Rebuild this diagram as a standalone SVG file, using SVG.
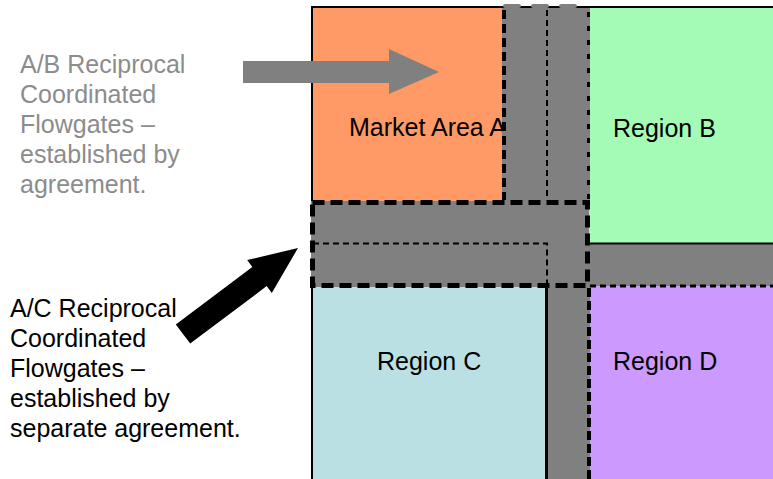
<svg xmlns="http://www.w3.org/2000/svg" width="773" height="479" viewBox="0 0 773 479">
<style>
text{font-family:"Liberation Sans",Arial,sans-serif;font-size:25px}
.lbl{fill:#000}
.note{fill:#8C8C8C}
.band{fill:#808080}
.solid{stroke:#000;stroke-width:2;fill:none}
.thin{stroke:#000;stroke-width:2;fill:none;stroke-dasharray:6 4}
.med{stroke:#000;stroke-width:4;fill:none;stroke-dasharray:9 5}
.thick{stroke:#000;stroke-width:5;fill:none;stroke-dasharray:12 6}
</style>
<rect width="773" height="479" fill="#fff"/>
<g id="regionA"><rect x="312" y="8" width="235" height="235" fill="#FF9966"/><text class="lbl" x="349" y="136">Market Area A</text></g>
<g id="regionB"><rect x="547" y="8" width="226" height="235" fill="#A3FBB5"/><text class="lbl" x="613" y="137">Region B</text></g>
<g id="regionC"><rect x="312" y="243" width="235" height="236" fill="#BBE0E3"/><text class="lbl" x="377" y="370">Region C</text></g>
<g id="regionD"><rect x="547" y="243" width="226" height="236" fill="#CC99FF"/><text class="lbl" x="613" y="370">Region D</text></g>
<g id="borders">
<line class="solid" x1="312" y1="7" x2="312" y2="479"/>
<line class="solid" x1="311" y1="7" x2="773" y2="7"/>
</g>
<g id="flowgateAB">
<rect class="band" x="502" y="8" width="88" height="193"/>
<line x1="505" y1="6" x2="588" y2="6" stroke="#808080" stroke-width="4" stroke-linecap="round" stroke-dasharray="14 14"/>
<line class="med" x1="504" y1="10" x2="504" y2="200"/>
<line class="med" x1="588.5" y1="12" x2="588.5" y2="200" style="stroke-width:3;stroke-dasharray:5 9"/>
<line class="thin" x1="547" y1="10" x2="547" y2="200"/>
</g>
<g id="flowgateBD">
<rect class="band" x="588" y="243" width="185" height="43"/>
<line class="solid" x1="588" y1="243.5" x2="773" y2="243.5"/>
<line class="thin" x1="590" y1="286" x2="773" y2="286" style="stroke-width:3"/>
</g>
<g id="flowgateCD">
<rect class="band" x="546" y="286" width="44" height="193"/>
<line class="solid" x1="546.5" y1="287" x2="546.5" y2="479" style="stroke-width:3"/>
<line class="med" x1="589" y1="288" x2="589" y2="479" style="stroke-width:4;stroke-dasharray:9 4"/>
</g>
<g id="flowgateAC">
<rect class="band" x="311" y="201" width="278" height="86"/>
<path class="thin" d="M313 243.5H547V287"/>
<rect class="thick" x="312.5" y="202.5" width="275" height="83"/>
</g>
<g id="connectors">
<polygon fill="#808080" points="243,61 389,61 389,49 439,72 389,94 389,83 243,83"/>
<polygon fill="#000" points="175.8,324.4 252.3,266.9 247.2,260.1 298,248 271.8,292.9 266.7,286.1 190.2,343.6"/>
</g>
<g id="noteAB">
<text class="note" x="20" y="73">A/B Reciprocal</text>
<text class="note" x="20" y="103">Coordinated</text>
<text class="note" x="20" y="133">Flowgates –</text>
<text class="note" x="20" y="163">established by</text>
<text class="note" x="20" y="193">agreement.</text>
</g>
<g id="noteAC">
<text class="lbl" x="10" y="317">A/C Reciprocal</text>
<text class="lbl" x="10" y="347">Coordinated</text>
<text class="lbl" x="10" y="377">Flowgates –</text>
<text class="lbl" x="10" y="407">established by</text>
<text class="lbl" x="10" y="437">separate agreement.</text>
</g>
</svg>
